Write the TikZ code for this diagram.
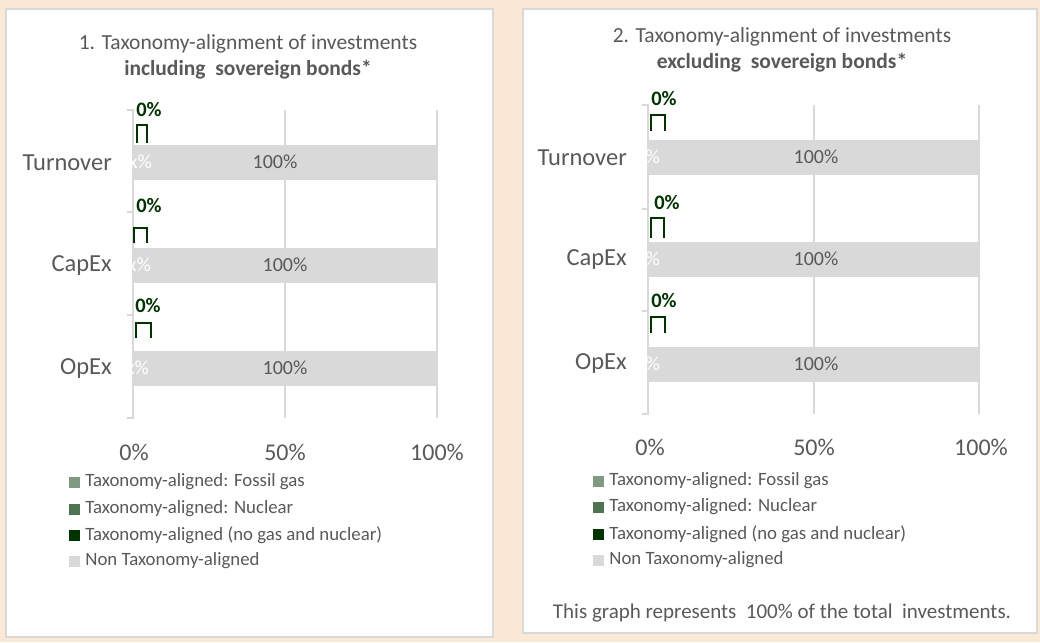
\documentclass[tikz,border=0pt]{standalone}
\usepackage{fontspec}
\setmainfont{Carlito}
\usetikzlibrary{positioning}
\definecolor{peach}{HTML}{FBE9D7}
\definecolor{txtgray}{HTML}{595959}
\definecolor{gridgray}{HTML}{D9D9D9}
\definecolor{gasgreen}{HTML}{7F9A80}
\definecolor{nucgreen}{HTML}{4E7350}
\definecolor{darkgreen}{HTML}{003300}

\tikzset{
  panel/.style={draw=gridgray,line width=1.5pt,fill=white},
  charttitle/.style={text=txtgray,align=center,font=\fontsize{21.5}{26}\selectfont},
  catlabel/.style={text=txtgray,anchor=east,inner sep=0pt,font=\fontsize{24.5}{26}\selectfont},
  barlabel/.style={text=txtgray,inner sep=0pt,font=\fontsize{20}{22}\selectfont},
  hidlabel/.style={text=white,anchor=east,inner sep=0pt,font=\fontsize{20}{22}\selectfont},
  zerolabel/.style={text=darkgreen,inner sep=0pt,font=\bfseries\fontsize{20.5}{22}\selectfont},
  axlabel/.style={text=txtgray,inner sep=0pt,font=\fontsize{24}{26}\selectfont},
  nonbar/.style={fill=gridgray,draw=none,inner sep=0pt,anchor=west,minimum height=35pt},
  gridline/.style={draw=gridgray,line width=1.5pt},
  bracket/.style={draw=darkgreen,line width=2pt},
  legbox/.style={minimum size=11pt,inner sep=0pt,draw=none},
  legtext/.style={text=txtgray,anchor=west,inner sep=0pt,font=\fontsize{18.8}{20}\selectfont},
}

\begin{document}
\begin{tikzpicture}[x=1pt,y=-1pt]
            %
            \fill[peach] (0,0) rectangle (1040,642);
            \useasboundingbox (0,0) rectangle (1040,642);
            \draw[panel] (6,9) rectangle (493,637);
            \draw[panel] (523,9) rectangle (1037,633);
            %
            % chart 1
            \node[charttitle] (titleL) at (248,57) {1. Taxonomy-alignment of investments\\\textbf{including\ \ sovereign bonds*}};
            \draw[gridline] (285,110) -- (285,418);
            \draw[gridline] (437,110) -- (437,418);
            \draw[gridline] (127,110) -- (133,110) -- (133,418) -- (127,418);
            \draw[gridline] (127,212) -- (133,212);
            \draw[gridline] (127,315) -- (133,315);
            \node[nonbar,minimum width=304pt] (turnL) at (133,162) {};
            \node[nonbar,minimum width=304pt] (capL) at (133,265) {};
            \node[nonbar,minimum width=304pt] (opL) at (133,368) {};
            \node[barlabel] (turnLval) at (275,162) {100\%};
            \node[barlabel] (capLval) at (285,265) {100\%};
            \node[barlabel] (opLval) at (285,368) {100\%};
            \node[hidlabel] (turnLhid) at (152,162) {xx\%};
            \node[hidlabel] (capLhid) at (151,265) {x\%};
            \node[hidlabel] (opLhid) at (149,368) {x\%};
            \node[catlabel] (turnLcat) at (112,163) {Turnover};
            \node[catlabel] (capLcat) at (112,266) {CapEx};
            \node[catlabel] (opLcat) at (112,369) {OpEx};
            \node[zerolabel] (turnLzero) at (149,110) {0\%};
            \node[zerolabel] (capLzero) at (149,206) {0\%};
            \node[zerolabel] (opLzero) at (148,306) {0\%};
            \draw[bracket] (137,143) -- (137,125) -- (147,125) -- (147,143);
            \draw[bracket] (134,243) -- (134,228) -- (147,228) -- (147,243);
            \draw[bracket] (136,338) -- (136,323) -- (151,323) -- (151,338);
            \node[axlabel] (ax0L) at (134,452) {0\%};
            \node[axlabel] (ax50L) at (285,452) {50\%};
            \node[axlabel] (ax100L) at (437,452) {100\%};
            \node[legbox,fill=gasgreen] (gasL) at (74.5,482) {};
            \node[legbox,fill=nucgreen] (nucL) at (74.5,509) {};
            \node[legbox,fill=darkgreen] (alignL) at (74.5,535) {};
            \node[legbox,fill=gridgray] (nonL) at (74.5,561) {};
            \node[legtext,right=5pt of gasL] (gasLtxt) {Taxonomy-aligned: Fossil gas};
            \node[legtext,right=5pt of nucL] (nucLtxt) {Taxonomy-aligned: Nuclear};
            \node[legtext,right=5pt of alignL] (alignLtxt) {Taxonomy-aligned (no gas and nuclear)};
            \node[legtext,right=5pt of nonL] (nonLtxt) {Non Taxonomy-aligned};
            %
            % chart 2
            \node[charttitle] (titleR) at (782,50) {2. Taxonomy-alignment of investments\\\textbf{excluding\ \ sovereign bonds*}};
            \draw[gridline] (814,105) -- (814,414);
            \draw[gridline] (979,105) -- (979,414);
            \draw[gridline] (642,105) -- (648,105) -- (648,414) -- (642,414);
            \draw[gridline] (642,209) -- (648,209);
            \draw[gridline] (642,311) -- (648,311);
            \node[nonbar,minimum width=331pt] (turnR) at (648,157) {};
            \node[nonbar,minimum width=331pt] (capR) at (648,259) {};
            \node[nonbar,minimum width=331pt] (opR) at (648,364) {};
            \node[barlabel] (turnRval) at (816,157) {100\%};
            \node[barlabel] (capRval) at (816,259) {100\%};
            \node[barlabel] (opRval) at (816,364) {100\%};
            \node[hidlabel] (turnRhid) at (660,157) {x\%};
            \node[hidlabel] (capRhid) at (660,259) {x\%};
            \node[hidlabel] (opRhid) at (660,364) {x\%};
            \node[catlabel] (turnRcat) at (627,158) {Turnover};
            \node[catlabel] (capRcat) at (627,260) {CapEx};
            \node[catlabel] (opRcat) at (627,364) {OpEx};
            \node[zerolabel] (turnRzero) at (664,99) {0\%};
            \node[zerolabel] (capRzero) at (667,203) {0\%};
            \node[zerolabel] (opRzero) at (664,301) {0\%};
            \draw[bracket] (651,131) -- (651,115) -- (665,115) -- (665,131);
            \draw[bracket] (651,238) -- (651,218) -- (664,218) -- (664,238);
            \draw[bracket] (651,333) -- (651,317) -- (665,317) -- (665,333);
            \node[axlabel] (ax0R) at (650,447) {0\%};
            \node[axlabel] (ax50R) at (814,447) {50\%};
            \node[axlabel] (ax100R) at (981,447) {100\%};
            \node[legbox,fill=gasgreen] (gasR) at (598.5,481) {};
            \node[legbox,fill=nucgreen] (nucR) at (598.5,507) {};
            \node[legbox,fill=darkgreen] (alignR) at (598.5,534) {};
            \node[legbox,fill=gridgray] (nonR) at (598.5,560) {};
            \node[legtext,right=5pt of gasR] (gasRtxt) {Taxonomy-aligned: Fossil gas};
            \node[legtext,right=5pt of nucR] (nucRtxt) {Taxonomy-aligned: Nuclear};
            \node[legtext,right=5pt of alignR] (alignRtxt) {Taxonomy-aligned (no gas and nuclear)};
            \node[legtext,right=5pt of nonR] (nonRtxt) {Non Taxonomy-aligned};
            \node[text=txtgray,font=\fontsize{21}{23}\selectfont] (note) at (782,613) {This graph represents\ \ 100\% of the total\ \ investments.};
            %
        \end{tikzpicture}
\end{document}
